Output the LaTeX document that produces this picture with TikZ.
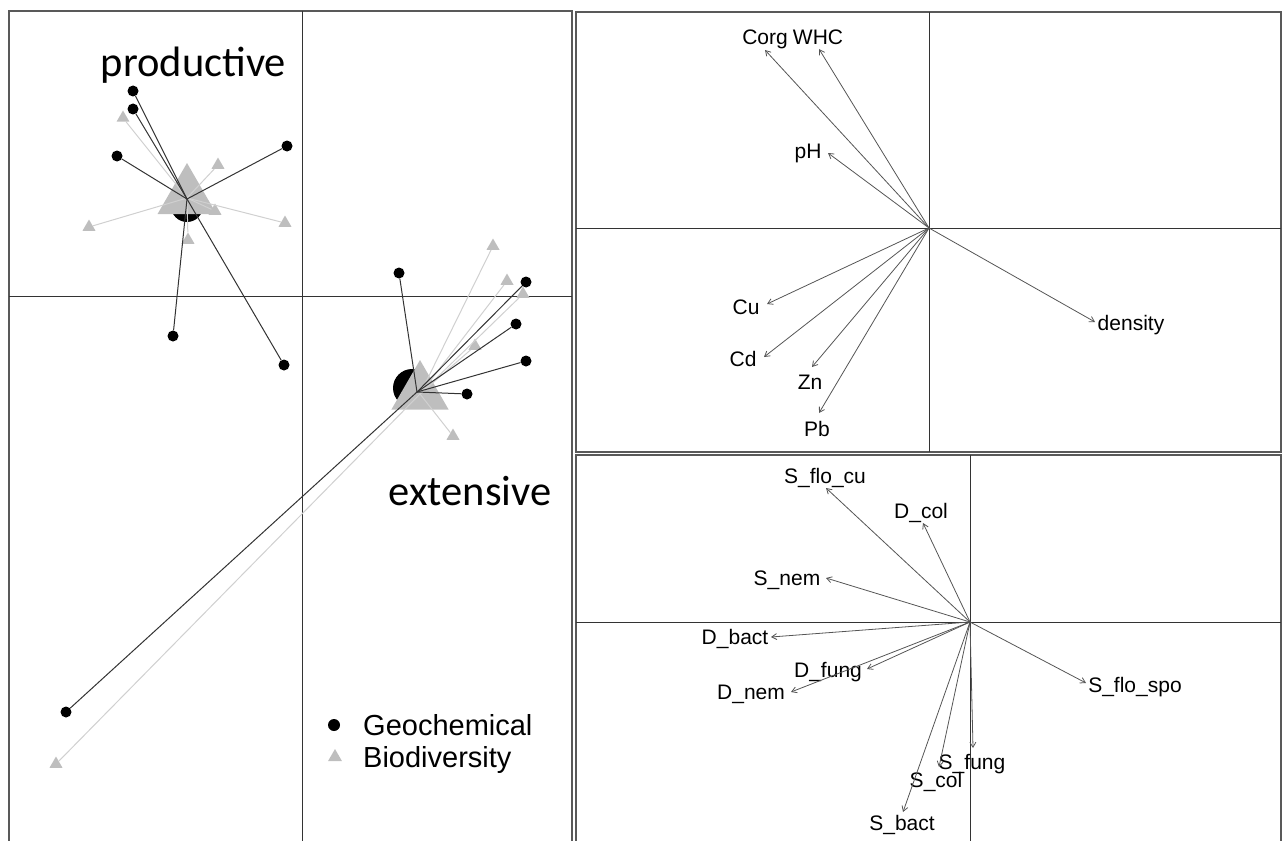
\documentclass[tikz,border=0pt]{standalone}
\usepackage{fontspec}
\setmainfont{Liberation Sans}
\newfontfamily\calibri{Carlito}
\usetikzlibrary{shapes.geometric,arrows.meta}
\definecolor{triGray}{HTML}{BEBEBE}
\definecolor{lineGray}{HTML}{D0D0D0}
\definecolor{vecGray}{HTML}{555555}

\begin{document}
\begin{tikzpicture}
        [x=1pt, y=-1pt,
        frame/.style={draw=black!65, line width=1.3pt},
        axis/.style={draw=black!80, line width=0.9pt},
        geo/.style={circle, fill=black, inner sep=0pt, minimum size=11pt},
        bio/.style={regular polygon, regular polygon sides=3, fill=triGray, inner sep=0pt, minimum size=15pt},
        geoLine/.style={draw=black!80, line width=1pt},
        bioLine/.style={draw=lineGray, line width=1pt},
        vec/.style={draw=vecGray, line width=0.8pt, -{Straight Barb[length=5pt,width=6pt]}},
        lbl/.style={font=\fontsize{21}{25}\selectfont, inner sep=0pt, text height=15pt, text depth=4pt},
        group/.style={font=\calibri\fontsize{42.5}{50}\selectfont, inner sep=0pt, anchor=base},
        legend/.style={font=\fontsize{29}{34}\selectfont, inner sep=0pt, anchor=base west}]
        \useasboundingbox (0,0) rectangle (1284,840);

        % left panel: sites
        \draw[frame] (9,842) -- (9,11) -- (572,11) -- (572,842);
        \draw[axis] (302,11) -- (302,842);
        \draw[axis] (9,296) -- (572,296);

        \node[geo, minimum size=32pt] (dotP) at (187,206) {};
        \node[bio, minimum size=68pt] (triP) at (187,197) {};
        \node[geo, minimum size=38pt] (dotE) at (412,388) {};
        \node[bio, minimum size=66pt] (triE) at (420,393) {};
        \coordinate (cPg) at (187,199);
        \coordinate (cPb) at (187,198);
        \coordinate (cEg) at (417,392);
        \coordinate (cEb) at (420,394);

        \node[geo] (gP1) at (133,91) {};
        \node[geo] (gP2) at (133,109) {};
        \node[geo] (gP3) at (117,156) {};
        \node[geo] (gP4) at (287,146) {};
        \node[geo] (gP5) at (173,336) {};
        \node[geo] (gP6) at (284,365) {};
        \node[bio] (bP1) at (123,118) {};
        \node[bio] (bP2) at (218,165) {};
        \node[bio] (bP3) at (89,227) {};
        \node[bio] (bP4) at (285,223) {};
        \node[bio] (bP5) at (188,240) {};
        \node[bio] (bP6) at (215,211) {};

        \node[geo] (gE1) at (399,273) {};
        \node[geo] (gE2) at (526,282) {};
        \node[geo] (gE3) at (516,324) {};
        \node[geo] (gE4) at (526,361) {};
        \node[geo] (gE5) at (467,394) {};
        \node[geo] (gE6) at (66,712) {};
        \node[bio] (bE1) at (493,246) {};
        \node[bio] (bE2) at (507,281) {};
        \node[bio] (bE3) at (523,294) {};
        \node[bio] (bE4) at (475,346) {};
        \node[bio] (bE5) at (453,436) {};
        \node[bio] (bE6) at (56,764) {};

        \draw[bioLine] (cPb) -- (bP1);
        \draw[bioLine] (cPb) -- (bP2);
        \draw[bioLine] (cPb) -- (bP3);
        \draw[bioLine] (cPb) -- (bP4);
        \draw[bioLine] (cPb) -- (bP5);
        \draw[bioLine] (cPb) -- (bP6);
        \draw[geoLine] (cPg) -- (gP1);
        \draw[geoLine] (cPg) -- (gP2);
        \draw[geoLine] (cPg) -- (gP3);
        \draw[geoLine] (cPg) -- (gP4);
        \draw[geoLine] (cPg) -- (gP5);
        \draw[geoLine] (cPg) -- (gP6);

        \draw[bioLine] (cEb) -- (bE1);
        \draw[bioLine] (cEb) -- (bE2);
        \draw[bioLine] (cEb) -- (bE3);
        \draw[bioLine] (cEb) -- (bE4);
        \draw[bioLine] (cEb) -- (bE5);
        \draw[bioLine] (cEb) -- (bE6);
        \draw[geoLine] (cEg) -- (gE1);
        \draw[geoLine] (cEg) -- (gE2);
        \draw[geoLine] (cEg) -- (gE3);
        \draw[geoLine] (cEg) -- (gE4);
        \draw[geoLine] (cEg) -- (gE5);
        \draw[geoLine] (cEg) -- (gE6);

        \node[group] (prod) at (193.5,77) {productive};
        \node[group] (ext) at (470,505) {extensive};

        \node[geo, minimum size=12pt] (legGeo) at (334,725) {};
        \node[bio, minimum size=16pt] (legBio) at (335,757) {};
        \node[legend] (legGeoTxt) at (363,735) {Geochemical};
        \node[legend] (legBioTxt) at (363,767) {Biodiversity};

        % right top panel: soil variables
        \draw[frame] (576,12) rectangle (1281,452);
        \draw[axis] (929,12) -- (929,452);
        \draw[axis] (576,228) -- (1281,228);
        \coordinate (oT) at (929,228);

        \node[lbl] (Corg) at (765,39) {Corg};
        \node[lbl] (WHC) at (818,39) {WHC};
        \node[lbl] (pH) at (808,153) {pH};
        \node[lbl] (Cu) at (746,309) {Cu};
        \node[lbl] (Cd) at (743,361) {Cd};
        \node[lbl] (Zn) at (810,384) {Zn};
        \node[lbl] (Pb) at (817,431) {Pb};
        \node[lbl] (density) at (1131,325) {density};

        \draw[vec] (oT) -- (765,50);
        \draw[vec] (oT) -- (819,49);
        \draw[vec] (oT) -- (828,153);
        \draw[vec] (oT) -- (767,304);
        \draw[vec] (oT) -- (764,357);
        \draw[vec] (oT) -- (812,367);
        \draw[vec] (oT) -- (819,413);
        \draw[vec] (oT) -- (1095,322);

        % right bottom panel: biological variables
        \draw[frame] (576,842) -- (576,455) -- (1281,455) -- (1281,842);
        \draw[axis] (970,455) -- (970,842);
        \draw[axis] (576,622) -- (1281,622);
        \coordinate (oB) at (970,622);

        \node[lbl] (SfloCu) at (825,478) {S\_flo\_cu};
        \node[lbl] (Dcol) at (921,513) {D\_col};
        \node[lbl] (Snem) at (787,580) {S\_nem};
        \node[lbl] (Dbact) at (735,639) {D\_bact};
        \node[lbl] (Dfung) at (828,672) {D\_fung};
        \node[lbl] (Dnem) at (751,694) {D\_nem};
        \node[lbl] (SfloSpo) at (1135,687) {S\_flo\_spo};
        \node[lbl] (Sfung) at (972,764) {S\_fung};
        \node[lbl] (Scol) at (936,782) {S\_col};
        \node[lbl] (Sbact) at (902,825) {S\_bact};

        \draw[vec] (oB) -- (826,488);
        \draw[vec] (oB) -- (923,523);
        \draw[vec] (oB) -- (826,578);
        \draw[vec] (oB) -- (771,637);
        \draw[vec] (oB) -- (867,669);
        \draw[vec] (oB) -- (791,692);
        \draw[vec] (oB) -- (1086,683);
        \draw[vec] (oB) -- (973,748);
        \draw[vec] (oB) -- (939,767);
        \draw[vec] (oB) -- (903,812);
\end{tikzpicture}
\end{document}
